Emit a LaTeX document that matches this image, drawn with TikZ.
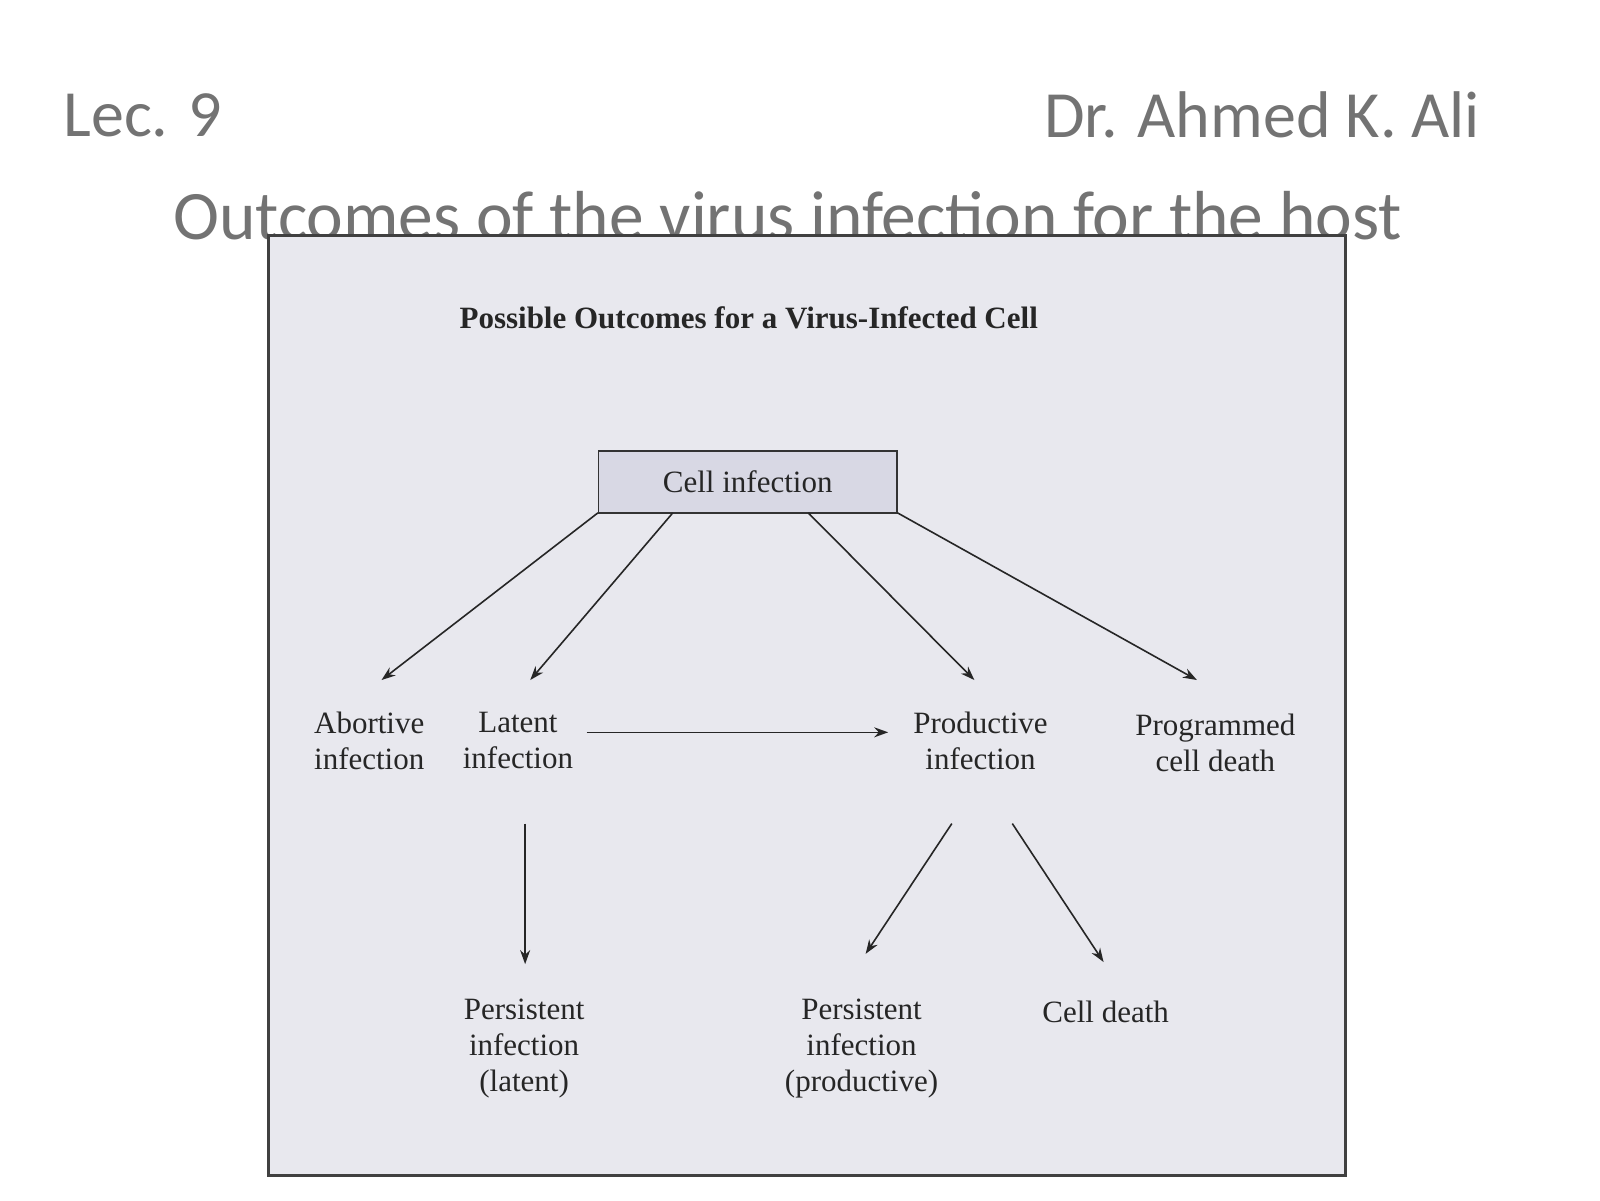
\documentclass[tikz,border=0pt]{standalone}
\usepackage{fontspec}
\usetikzlibrary{arrows.meta}
\setmainfont{Liberation Serif}
\newfontfamily\hdr{Carlito}
\definecolor{panel}{HTML}{E8E8EE}
\definecolor{cbox}{HTML}{D8D8E4}
\begin{document}
\begin{tikzpicture}[x=0.5128pt,y=-0.5128pt,
  lbl/.style={align=center,font=\fontsize{15.5}{18}\selectfont,text=black!85},
  arr/.style={-{Stealth[length=7pt,width=5pt]},draw=black!85,line width=0.8pt},
  hd/.style={text=black!55,font=\hdr\fontsize{33}{38}\selectfont}]
\useasboundingbox (0,0) rectangle (1560,1170);
\node[hd,anchor=west] (lec) at (55,112) {Lec. 9};
\node[hd,anchor=east] (dr) at (1450,112) {Dr. Ahmed K. Ali};
\node[hd,font=\hdr\fontsize{34.7}{40}\selectfont] (ttl) at (768,210) {Outcomes of the virus infection for the host};
\path[fill=panel,draw=black!75,line width=1.5pt] (262,230) rectangle (1312,1146);
\node[font=\bfseries\fontsize{15.5}{18}\selectfont,text=black!85] (pt) at (730,310) {Possible Outcomes for a Virus-Infected Cell};
\node[draw=black!80,fill=cbox,minimum width=149pt,minimum height=31pt,lbl,line width=0.8pt] (ci) at (729,470) {Cell infection};
\node[lbl] (ab) at (360,722) {Abortive\\infection};
\node[lbl] (la) at (505,722) {Latent\\infection};
\node[lbl] (pr) at (956,722) {Productive\\infection};
\node[lbl] (pc) at (1185,724) {Programmed\\cell death};
\node[lbl] (pl) at (511,1022) {Persistent\\infection\\(latent)};
\node[lbl] (pp) at (840,1022) {Persistent\\infection\\(productive)};
\node[lbl] (cd) at (1078,987) {Cell death};
\coordinate (c1) at (583,500); \coordinate (c2) at (656,500);
\coordinate (c3) at (788,500); \coordinate (c4) at (875,500);
\draw[arr] (c1) -- (372,663);
\draw[arr] (c2) -- (517,663);
\draw[arr] (c3) -- (950,663);
\draw[arr] (c4) -- (1167,663);
\draw[arr] (572,714) -- (866,714);
\draw[arr] (512,803) -- (512,940);
\draw[arr] (928,803) -- (844,930);
\draw[arr] (987,803) -- (1076,938);
\end{tikzpicture}
\end{document}
